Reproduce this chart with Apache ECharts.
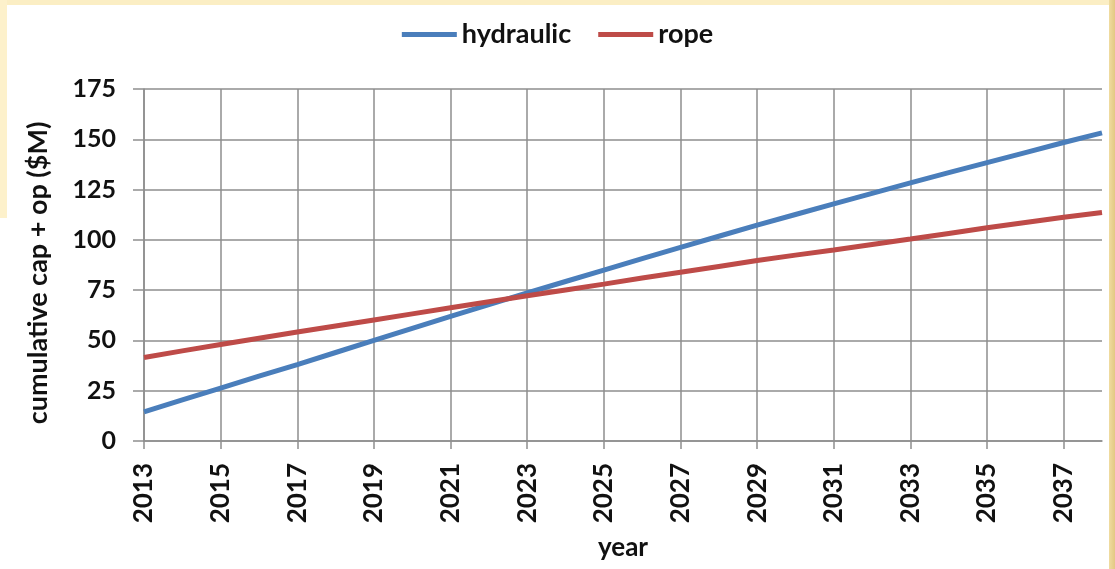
<!DOCTYPE html>
<html>
<head>
<meta charset="utf-8">
<script src="https://cdn.jsdelivr.net/npm/echarts@6/dist/echarts.min.js"></script>
<style>
    html, body {
        margin: 0;
        padding: 0;
        background: #fff;
        overflow: hidden;
    }
    .frame-top {
        position: absolute; left: 0; top: 0; width: 1115px; height: 5px;
        background: #fbeec4;
    }
    .frame-left {
        position: absolute; left: 0; top: 0; width: 7px; height: 218px;
        background: #fdf1cb;
    }
    .frame-right {
        position: absolute; left: 1109px; top: 0; width: 6px; height: 569px;
        background: linear-gradient(to right, #f0dca0, #e3c884);
    }
    #chart {
        position: absolute; left: 0; top: 0;
        width: 1115px;
        height: 569px;
    }
</style>
</head>
<body>
<div class="frame-top"></div>
<div class="frame-left"></div>
<div class="frame-right"></div>
<div id="chart"></div>
<script>
    // years on the category axis
    const years = ['2013', '2014', '2015', '2016', '2017', '2018', '2019', '2020', '2021',
        '2022', '2023', '2024', '2025', '2026', '2027', '2028', '2029', '2030', '2031',
        '2032', '2033', '2034', '2035', '2036', '2037', '2038'];

    // cumulative cap + op, $M
    const hydraulic = [14.5, 20.4, 26.3, 32.2, 38.0, 44.0, 50.0, 56.0, 62.0, 67.8, 73.6, 79.3,
        85.0, 90.7, 96.3, 101.8, 107.3, 112.6, 117.9, 123.1, 128.3, 133.4, 138.4, 143.4,
        148.4, 153.2];
    const rope = [41.5, 44.8, 48.0, 51.1, 54.2, 57.2, 60.2, 63.2, 66.2, 69.2, 72.2, 75.1,
        78.0, 81.0, 83.9, 86.8, 89.7, 92.4, 95.0, 97.7, 100.4, 103.2, 106.0, 108.6,
        111.2, 113.6];

    const yTicks = [0, 25, 50, 75, 100, 125, 150, 175];

    const font = 'Lato, "Open Sans", sans-serif';
    const gridColor = '#8e8e8e';

    let myChart = echarts.init(document.getElementById('chart'));

    myChart.setOption({
        animation: false,
        textStyle: {
            fontFamily: font
        },
        legend: {
            top: 16,
            left: 'center',
            icon: 'rect',
            itemWidth: 55,
            itemHeight: 5,
            itemGap: 27,
            data: ['hydraulic', 'rope'],
            textStyle: {
                fontFamily: font,
                fontSize: 27,
                fontWeight: 'bold',
                color: '#111'
            }
        },
        grid: {
            left: 144,
            right: 13,
            top: 89,
            bottom: 128
        },
        xAxis: {
            type: 'category',
            data: years,
            boundaryGap: false,
            name: 'year',
            nameLocation: 'middle',
            nameGap: 94,
            nameTextStyle: {
                fontFamily: font,
                fontSize: 26,
                fontWeight: 'bold',
                color: '#111'
            },
            axisLine: {
                lineStyle: { color: gridColor, width: 1.5 }
            },
            axisTick: {
                interval: 1,
                length: 8,
                lineStyle: { color: gridColor, width: 1.5 }
            },
            axisLabel: {
                interval: 1,
                rotate: 90,
                margin: 22,
                fontFamily: font,
                fontSize: 26,
                fontWeight: 'bold',
                color: '#111'
            },
            splitLine: {
                show: true,
                interval: 1,
                lineStyle: { color: gridColor, width: 1.5 }
            }
        },
        yAxis: {
            type: 'value',
            min: yTicks[0],
            max: yTicks[yTicks.length - 1],
            interval: 25,
            name: 'cumulative cap + op ($M)',
            nameLocation: 'middle',
            nameGap: 92,
            nameTextStyle: {
                fontFamily: font,
                fontSize: 27,
                fontWeight: 'bold',
                color: '#111',
                padding: [0, 16, 0, 0]
            },
            axisLine: {
                show: true,
                lineStyle: { color: gridColor, width: 1.5 }
            },
            axisTick: {
                show: true,
                length: 11,
                lineStyle: { color: gridColor, width: 1.5 }
            },
            axisLabel: {
                margin: 28,
                fontFamily: font,
                fontSize: 25,
                fontWeight: 'bold',
                color: '#111'
            },
            splitLine: {
                lineStyle: { color: gridColor, width: 1.5 }
            }
        },
        series: [{
            name: 'hydraulic',
            type: 'line',
            data: hydraulic,
            symbol: 'none',
            color: '#4a7ebb',
            lineStyle: { width: 5, color: '#4a7ebb' }
        }, {
            name: 'rope',
            type: 'line',
            data: rope,
            symbol: 'none',
            color: '#be4b48',
            lineStyle: { width: 5, color: '#be4b48' }
        }]
    });
</script>
</body>
</html>
